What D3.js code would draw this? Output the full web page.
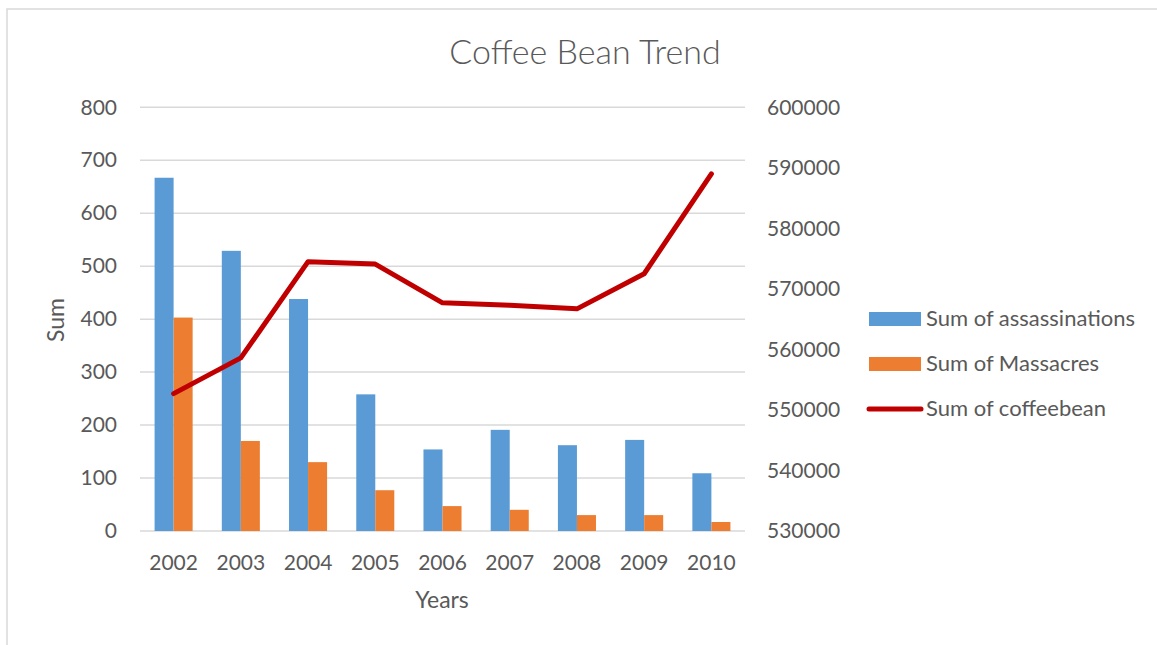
<!DOCTYPE html>
<html>
<head>
<meta charset="utf-8">
<script src="https://cdn.jsdelivr.net/npm/d3@7"></script>
<style>
  html, body { margin: 0; padding: 0; background: #ffffff; }
  svg { display: block; font-family: Lato, "Noto Sans", sans-serif; }
</style>
</head>
<body>
<svg id="chart" width="1157" height="645"></svg>
<script>
// Yearly totals
const years = ["2002", "2003", "2004", "2005", "2006", "2007", "2008", "2009", "2010"];
const assassinations = [667, 529, 438, 258, 154, 191, 162, 172, 109];
const massacres = [403, 170, 130, 77, 47, 40, 30, 30, 17];
const coffeebean = [552700, 558600, 574500, 574100, 567700, 567300, 566700, 572500, 589000];

const leftTicks = [0, 100, 200, 300, 400, 500, 600, 700, 800];
const rightTicks = [530000, 540000, 550000, 560000, 570000, 580000, 590000, 600000];

const seriesNames = ["Sum of assassinations", "Sum of Massacres", "Sum of coffeebean"];
const barColors = ["#5B9BD5", "#ED7D31"];
const lineColor = "#C00000";
const textColor = "#595959";
const gridColor = "#D9D9D9";

const svg = d3.select("#chart");

const plot = { left: 140, right: 745, top: 107.3, bottom: 531 };

const x = d3.scaleBand().domain(years).range([plot.left, plot.right]);
const bw = x.bandwidth();
const xSub = d3.scaleBand().domain([0, 1]).range([bw * 0.217, bw * 0.783]);
const y = d3.scaleLinear().domain([0, 800]).range([plot.bottom, plot.top]);
const y2 = d3.scaleLinear().domain([530000, 600000]).range([plot.bottom, plot.top]);

// Chart frame
svg.append("path")
  .attr("d", "M7,645 V9 H1157")
  .attr("fill", "none")
  .attr("stroke", gridColor)
  .attr("stroke-width", 1.5);

// Title
svg.append("text")
  .attr("x", 585).attr("y", 56)
  .attr("text-anchor", "middle").attr("dominant-baseline", "middle")
  .attr("font-size", 34).attr("font-weight", 300)
  .attr("fill", textColor)
  .text("Coffee Bean Trend");

// Horizontal gridlines
svg.append("g").selectAll("line")
  .data(leftTicks).join("line")
  .attr("x1", plot.left).attr("x2", plot.right)
  .attr("y1", d => y(d)).attr("y2", d => y(d))
  .attr("stroke", gridColor).attr("stroke-width", 1.5);

// Left axis labels
const leftAxis = d3.axisLeft(y).tickValues(leftTicks).tickSize(0).tickPadding(0);
const gl = svg.append("g").attr("transform", "translate(117,0)").call(leftAxis);
gl.select(".domain").remove();
gl.selectAll("text").attr("font-size", 21).attr("fill", textColor).attr("font-family", "Lato");

// Right axis labels
const rightAxis = d3.axisRight(y2).tickValues(rightTicks).tickSize(0).tickPadding(0).tickFormat(d3.format("d"));
const gr = svg.append("g").attr("transform", "translate(767,0)").call(rightAxis);
gr.select(".domain").remove();
gr.selectAll("text").attr("font-size", 21).attr("fill", textColor).attr("font-family", "Lato");

// Bottom axis labels
const bottomAxis = d3.axisBottom(x).tickSize(0).tickPadding(0);
const gb = svg.append("g").attr("transform", "translate(0,555)").call(bottomAxis);
gb.select(".domain").remove();
gb.selectAll("text").attr("font-size", 21).attr("fill", textColor).attr("font-family", "Lato");

// Axis titles
svg.append("text")
  .attr("x", 442).attr("y", 602)
  .attr("text-anchor", "middle").attr("dominant-baseline", "middle")
  .attr("font-size", 23).attr("fill", textColor)
  .text("Years");
svg.append("text")
  .attr("transform", "translate(58,320) rotate(-90)")
  .attr("text-anchor", "middle").attr("dominant-baseline", "middle")
  .attr("font-size", 23).attr("fill", textColor)
  .text("Sum");

// Bars
const barSeries = [assassinations, massacres];
barSeries.forEach((vals, si) => {
  svg.append("g").selectAll("rect")
    .data(years.map((yr, i) => ({ yr, v: vals[i] })))
    .join("rect")
    .attr("x", d => x(d.yr) + xSub(si))
    .attr("width", xSub.bandwidth())
    .attr("y", d => y(d.v))
    .attr("height", d => y(0) - y(d.v))
    .attr("fill", barColors[si]);
});

// Coffee bean line on the secondary axis
const line = d3.line()
  .x((d, i) => x(years[i]) + bw / 2)
  .y(d => y2(d));
svg.append("path")
  .datum(coffeebean)
  .attr("d", line)
  .attr("fill", "none")
  .attr("stroke", lineColor)
  .attr("stroke-width", 5)
  .attr("stroke-linejoin", "round")
  .attr("stroke-linecap", "round");

// Legend
const legendY = [319, 364, 409];
const legend = svg.append("g");
[0, 1].forEach(i => {
  legend.append("rect")
    .attr("x", 869).attr("y", legendY[i] - 7)
    .attr("width", 52).attr("height", 14)
    .attr("fill", barColors[i]);
});
legend.append("line")
  .attr("x1", 869).attr("x2", 921)
  .attr("y1", legendY[2]).attr("y2", legendY[2])
  .attr("stroke", lineColor).attr("stroke-width", 5)
  .attr("stroke-linecap", "round");
seriesNames.forEach((name, i) => {
  legend.append("text")
    .attr("x", 926).attr("y", legendY[i] + 1)
    .attr("dominant-baseline", "middle")
    .attr("font-size", 22).attr("fill", textColor)
    .text(name);
});
</script>
</body>
</html>
